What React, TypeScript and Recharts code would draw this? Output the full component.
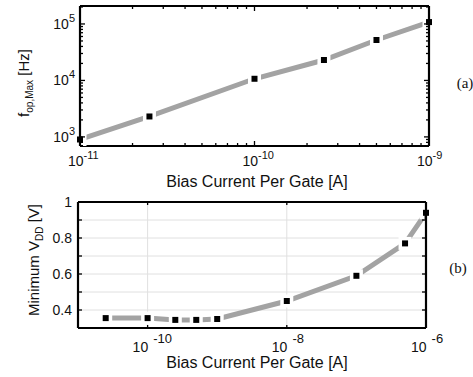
import { LineChart, Line, XAxis, YAxis, CartesianGrid } from "recharts";

// (a) max operating frequency vs bias current
const topCurrent = [1e-11, 2.5e-11, 1e-10, 2.5e-10, 5e-10, 1e-9];
const topFreq = [900, 2300, 10700, 23000, 52000, 108000];
const topXDomain = [1e-11, 1e-9];
const topYDomain = [690, 208000];

// (b) minimum supply voltage vs bias current
const bottomCurrent = [2.5e-11, 1e-10, 2.5e-10, 5e-10, 1e-9, 1e-8, 1e-7, 5e-7, 1e-6];
const bottomVdd = [0.355, 0.355, 0.345, 0.345, 0.35, 0.45, 0.59, 0.77, 0.94];
const bottomXDomain = [1e-11, 1e-6];
const bottomXTicks = [1e-10, 1e-8, 1e-6];
const bottomYTicks = [0.3, 0.4, 0.5, 0.6, 0.7, 0.8, 0.9, 1];
const bottomYLabels = [0.4, 0.6, 0.8, 1];

const FONT = "'Liberation Sans', Arial, sans-serif";
const INK = "#111";
const LINE = "#a3a3a3";

// log minor ticks 1..9 x 10^e inside [lo, hi]
function logTicks(lo: number, hi: number) {
  const out: number[] = [];
  for (let e = Math.floor(Math.log10(lo)); e <= Math.ceil(Math.log10(hi)); e++) {
    for (let m = 1; m <= 9; m++) {
      const v = m * Math.pow(10, e);
      if (v >= lo * 0.999 && v <= hi * 1.001) out.push(v);
    }
  }
  return out;
}
const isDecade = (v: number) =>
  Math.abs(Math.log10(v) - Math.round(Math.log10(v))) < 1e-6;
const expOf = (v: number) => Math.round(Math.log10(v));

const topXTicks = logTicks(topXDomain[0], topXDomain[1]);
const topYTicks = logTicks(topYDomain[0], topYDomain[1]);

const topData = topCurrent.map((c, i) => ({ current: c, freq: topFreq[i] }));
const bottomData = bottomCurrent.map((c, i) => ({ current: c, vdd: bottomVdd[i] }));

// square marker with a white gap around it, trimmed at the frame
function makeDot(count: number, leftEdge: boolean, rightEdge: boolean) {
  return (p: any) => {
    const { cx, cy, index } = p;
    const h = 6.5;
    let x0 = cx - h;
    let w = 2 * h;
    if (index === 0 && leftEdge) {
      x0 = cx + 2;
      w = h - 2;
    }
    if (index === count - 1 && rightEdge) {
      x0 = cx - h;
      w = h - 2;
    }
    return (
      <g key={`dot-${index}`}>
        <rect x={x0} y={cy - h} width={w} height={2 * h} fill="#fff" />
        <rect x={cx - 3} y={cy - 3} width={6} height={6} fill="#000" />
      </g>
    );
  };
}

// ---- top chart ticks
const TopXBottomTick = ({ x, y, payload }: any) => {
  const v = payload.value;
  const major = isDecade(v);
  return (
    <g>
      <line x1={x} x2={x} y1={y} y2={y - (major ? 5 : 3)} stroke="#000" strokeWidth={1.3} />
      {major && (
        <text x={x - 12} y={y + 20} fontSize={14} fontFamily={FONT} fill={INK}>
          10
          <tspan dy={-7} fontSize={11}>
            {expOf(v)}
          </tspan>
        </text>
      )}
    </g>
  );
};
const TopXTopTick = ({ x, y, payload }: any) => {
  const major = isDecade(payload.value);
  return <line x1={x} x2={x} y1={y} y2={y + (major ? 5 : 3)} stroke="#000" strokeWidth={1.3} />;
};
const TopYLeftTick = ({ x, y, payload }: any) => {
  const v = payload.value;
  const major = isDecade(v);
  return (
    <g>
      <line x1={x} x2={x + (major ? 5 : 3)} y1={y} y2={y} stroke="#000" strokeWidth={1.3} />
      {major && (
        <text x={x - 5} y={y + 5} fontSize={14} fontFamily={FONT} fill={INK} textAnchor="end">
          10
          <tspan dy={-7} fontSize={11}>
            {expOf(v)}
          </tspan>
        </text>
      )}
    </g>
  );
};
const TopYRightTick = ({ x, y, payload }: any) => {
  const major = isDecade(payload.value);
  return <line x1={x} x2={x - (major ? 5 : 3)} y1={y} y2={y} stroke="#000" strokeWidth={1.3} />;
};

// ---- bottom chart ticks
const BotXBottomTick = ({ x, y, payload }: any) => (
  <g>
    <line x1={x} x2={x} y1={y} y2={y - 3} stroke="#000" strokeWidth={1.3} />
    <text x={x - 15} y={y + 24} fontSize={14} fontFamily={FONT} fill={INK}>
      10
      <tspan dx={5} dy={-9} fontSize={13}>
        {expOf(payload.value)}
      </tspan>
    </text>
  </g>
);
const BotXTopTick = ({ x, y }: any) => (
  <line x1={x} x2={x} y1={y} y2={y + 3} stroke="#000" strokeWidth={1.3} />
);
const BotYLeftTick = ({ x, y, payload }: any) => {
  const v = payload.value;
  return (
    <g>
      <line x1={x} x2={x + 4} y1={y} y2={y} stroke="#000" strokeWidth={1.3} />
      {bottomYLabels.includes(v) && (
        <text x={x - 6} y={y + 5} fontSize={14} fontFamily={FONT} fill={INK} textAnchor="end">
          {String(v)}
        </text>
      )}
    </g>
  );
};
const BotYRightTick = ({ x, y }: any) => (
  <line x1={x} x2={x - 4} y1={y} y2={y} stroke="#000" strokeWidth={1.3} />
);

const frame = { stroke: "#000", strokeWidth: 2.2 };

export default function App() {
  return (
    <div style={{ position: "absolute", left: 0, top: 0, width: 473, height: 377, background: "#fff" }}>
      <div style={{ position: "absolute", left: 0, top: 0 }}>
        <LineChart width={473} height={190} data={topData} margin={{ top: 5, right: 43, bottom: 43, left: 79 }}>
          <XAxis
            dataKey="current"
            type="number"
            scale="log"
            domain={topXDomain}
            ticks={topXTicks}
            interval={0}
            height={1}
            tickSize={0}
            tickMargin={0}
            axisLine={frame}
            tickLine={false}
            tick={<TopXBottomTick />}
          />
          <XAxis
            xAxisId="top"
            orientation="top"
            dataKey="current"
            type="number"
            scale="log"
            domain={topXDomain}
            allowDataOverflow
            ticks={topXTicks}
            interval={0}
            height={1}
            tickSize={0}
            tickMargin={0}
            axisLine={frame}
            tickLine={false}
            tick={<TopXTopTick />}
          />
          <YAxis
            type="number"
            scale="log"
            domain={topYDomain}
            ticks={topYTicks}
            interval={0}
            width={1}
            tickSize={0}
            tickMargin={0}
            axisLine={frame}
            tickLine={false}
            tick={<TopYLeftTick />}
          />
          <YAxis
            yAxisId="right"
            orientation="right"
            type="number"
            scale="log"
            domain={topYDomain}
            allowDataOverflow
            ticks={topYTicks}
            interval={0}
            width={1}
            tickSize={0}
            tickMargin={0}
            axisLine={frame}
            tickLine={false}
            tick={<TopYRightTick />}
          />
          <Line
            dataKey="freq"
            stroke={LINE}
            strokeWidth={5}
            dot={makeDot(topData.length, true, true)}
            activeDot={false}
            isAnimationActive={false}
          />
        </LineChart>
      </div>

      <div style={{ position: "absolute", left: 0, top: 190 }}>
        <LineChart width={473} height={187} data={bottomData} margin={{ top: 11, right: 46, bottom: 48, left: 77 }}>
          <CartesianGrid stroke="#e0e0e0" strokeWidth={1} />
          <XAxis
            dataKey="current"
            type="number"
            scale="log"
            domain={bottomXDomain}
            ticks={bottomXTicks}
            interval={0}
            height={1}
            tickSize={0}
            tickMargin={0}
            axisLine={frame}
            tickLine={false}
            tick={<BotXBottomTick />}
          />
          <XAxis
            xAxisId="top"
            orientation="top"
            dataKey="current"
            type="number"
            scale="log"
            domain={bottomXDomain}
            allowDataOverflow
            ticks={bottomXTicks}
            interval={0}
            height={1}
            tickSize={0}
            tickMargin={0}
            axisLine={frame}
            tickLine={false}
            tick={<BotXTopTick />}
          />
          <YAxis
            type="number"
            domain={[0.3, 1]}
            ticks={bottomYTicks}
            interval={0}
            width={1}
            tickSize={0}
            tickMargin={0}
            axisLine={frame}
            tickLine={false}
            tick={<BotYLeftTick />}
          />
          <YAxis
            yAxisId="right"
            orientation="right"
            type="number"
            domain={[0.3, 1]}
            allowDataOverflow
            ticks={bottomYTicks}
            interval={0}
            width={1}
            tickSize={0}
            tickMargin={0}
            axisLine={frame}
            tickLine={false}
            tick={<BotYRightTick />}
          />
          <Line
            dataKey="vdd"
            stroke={LINE}
            strokeWidth={5}
            dot={makeDot(bottomData.length, false, true)}
            activeDot={false}
            isAnimationActive={false}
          />
        </LineChart>
      </div>

      {/* axis titles and panel labels */}
      <svg width={473} height={377} style={{ position: "absolute", left: 0, top: 0, pointerEvents: "none" }}>
        <text x={257} y={187} fontSize={16} fontFamily={FONT} fill={INK} textAnchor="middle">
          Bias Current Per Gate [A]
        </text>
        <text x={257} y={368} fontSize={16} fontFamily={FONT} fill={INK} textAnchor="middle">
          Bias Current Per Gate [A]
        </text>
        <text transform="translate(29 83) rotate(-90)" fontSize={15} fontFamily={FONT} fill={INK} textAnchor="middle">
          f
          <tspan dy={4} fontSize={10}>
            op,Max
          </tspan>
          <tspan dy={-4}> [Hz]</tspan>
        </text>
        <text transform="translate(39 260) rotate(-90)" fontSize={15} fontFamily={FONT} fill={INK} textAnchor="middle">
          Minimum V
          <tspan dy={4} fontSize={10}>
            DD
          </tspan>
          <tspan dy={-4}> [V]</tspan>
        </text>
        <text x={465} y={88} fontSize={15} fontFamily="'Liberation Serif', 'Times New Roman', serif" fill={INK} textAnchor="middle">
          (a)
        </text>
        <text x={458} y={273} fontSize={15} fontFamily="'Liberation Serif', 'Times New Roman', serif" fill={INK} textAnchor="middle">
          (b)
        </text>
      </svg>
    </div>
  );
}
